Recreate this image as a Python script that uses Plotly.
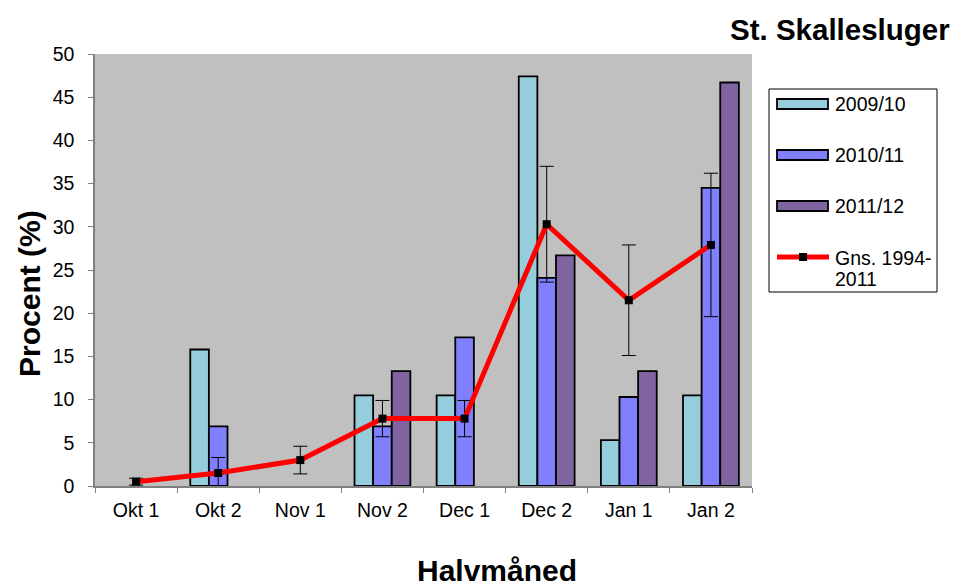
import plotly.graph_objects as go

categories = ["Okt 1", "Okt 2", "Nov 1", "Nov 2", "Dec 1", "Dec 2", "Jan 1", "Jan 2"]
s2009 = [None, 15.8, None, 10.5, 10.5, 47.4, 5.3, 10.5]
s2010 = [None, 6.9, None, 6.9, 17.2, 24.1, 10.3, 34.5]
s2011 = [None, None, None, 13.3, None, 26.7, 13.3, 46.7]
avg = [0.5, 1.5, 3.0, 7.8, 7.8, 30.3, 21.5, 27.9]
avg_err = [0.4, 1.8, 1.6, 2.1, 2.1, 6.7, 6.4, 8.3]
series_names = ["2009/10", "2010/11", "2011/12"]
avg_name = ["Gns. 1994-", "2011"]
colors = ["#96CDDC", "#8080FF", "#8064A2"]

font = "Liberation Sans, Arial, sans-serif"
W, H = 954, 580
L, R, T, B = 87, 210, 46, 102
PW, PH = W - L - R, H - T - B


def px(x):
    return (x - 8 - L) / PW


def py(y):
    return (H - B - (y - 8)) / PH


fig = go.Figure()
bar_line = dict(color="black", width=1.8)
for vals, name, col in zip([s2009, s2010, s2011], series_names, colors):
    fig.add_trace(go.Bar(x=categories, y=vals, name=name, marker=dict(color=col, line=bar_line)))
fig.add_trace(go.Scatter(x=categories, y=avg, name=" ".join(avg_name), mode="lines+markers",
                         line=dict(color="#FF0000", width=5),
                         marker=dict(symbol="square", color="black", size=8),
                         error_y=dict(type="data", array=avg_err, color="black", thickness=1, width=7)))

shapes = []
annotations = []
# legend box
shapes.append(dict(type="rect", xref="paper", yref="paper", x0=px(769), x1=px(937), y0=py(89), y1=py(292),
                   line=dict(color="black", width=1), fillcolor="white", layer="above"))
rect_y = [(99, 109), (150, 160), (201, 211)]
for (y0, y1), name, col in zip(rect_y, series_names, colors):
    shapes.append(dict(type="rect", xref="paper", yref="paper", x0=px(777), x1=px(828), y0=py(y0), y1=py(y1),
                       line=dict(color="black", width=1.8), fillcolor=col, layer="above"))
    annotations.append(dict(text=name, xref="paper", yref="paper", x=px(833), y=py((y0 + y1) / 2),
                            xanchor="left", yanchor="middle", showarrow=False, font=dict(size=19.5)))
shapes.append(dict(type="line", xref="paper", yref="paper", x0=px(777), x1=px(829), y0=py(257), y1=py(257),
                   line=dict(color="#FF0000", width=5), layer="above"))
shapes.append(dict(type="rect", xref="paper", yref="paper", x0=px(799), x1=px(807), y0=py(253), y1=py(261),
                   line=dict(color="black", width=0), fillcolor="black", layer="above"))
annotations.append(dict(text=avg_name[0], xref="paper", yref="paper", x=px(833), y=py(258),
                        xanchor="left", yanchor="middle", showarrow=False, font=dict(size=19.5)))
annotations.append(dict(text=avg_name[1], xref="paper", yref="paper", x=px(833), y=py(279),
                        xanchor="left", yanchor="middle", showarrow=False, font=dict(size=19.5)))
# titles
annotations.append(dict(text="<b>St. Skallesluger</b>", xref="paper", yref="paper", x=px(952), y=py(30),
                        xanchor="right", yanchor="middle", showarrow=False, font=dict(size=29.5)))
annotations.append(dict(text="<b>Halvmåned</b>", xref="paper", yref="paper", x=px(497), y=py(570),
                        xanchor="center", yanchor="middle", showarrow=False, font=dict(size=30)))
annotations.append(dict(text="<b>Procent (%)</b>", xref="paper", yref="paper", x=px(29), y=py(294),
                        xanchor="center", yanchor="middle", showarrow=False, textangle=-90,
                        font=dict(size=30)))

fig.update_layout(
    width=W, height=H,
    margin=dict(l=L, r=R, t=T, b=B, autoexpand=False),
    paper_bgcolor="white", plot_bgcolor="#C0C0C0",
    barmode="group", bargap=0.32, bargroupgap=0,
    font=dict(family=font, size=19.5, color="black"),
    showlegend=False,
    shapes=shapes, annotations=annotations,
)
fig.update_xaxes(range=[-0.5, 7.5], ticks="outside", tickson="boundaries", ticklen=5,
                 showline=True, linecolor="#808080", linewidth=1.5, tickcolor="#808080",
                 tickfont=dict(size=19.5), ticklabelstandoff=6)
fig.update_yaxes(range=[0, 50], dtick=5, ticks="outside", ticklen=5, showgrid=False,
                 showline=True, linecolor="#808080", linewidth=1.5, tickcolor="#808080",
                 tickfont=dict(size=19.5), zeroline=False, ticklabelstandoff=10)

fig.write_html("out.html")
